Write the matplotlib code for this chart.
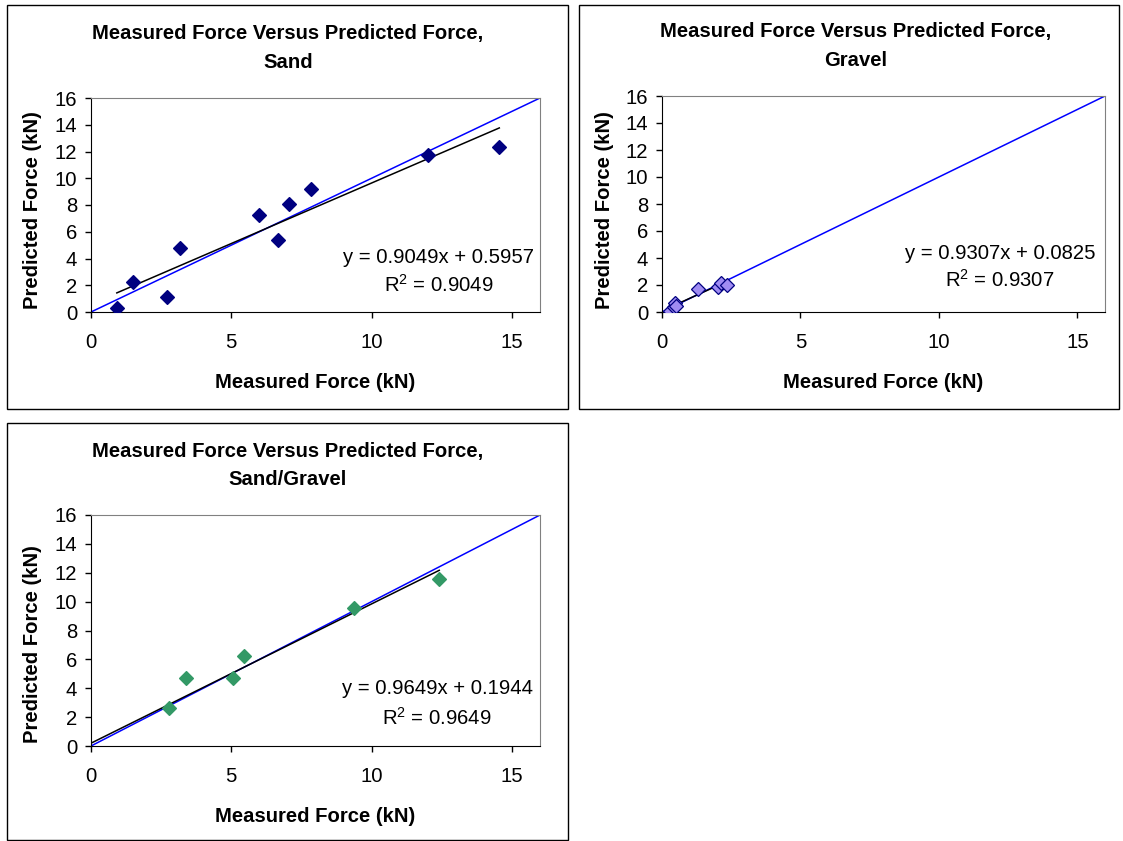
import numpy as np
import matplotlib
matplotlib.use("Agg")
import matplotlib.pyplot as plt
from matplotlib.patches import Rectangle

plt.rcParams["font.family"] = ["Liberation Sans", "DejaVu Sans"]
plt.rcParams["mathtext.fontset"] = "custom"
plt.rcParams["mathtext.rm"] = "Liberation Sans"
plt.rcParams["mathtext.it"] = "Liberation Sans:italic"

# Sand data (measured, predicted)
sand_meas = [0.92, 1.48, 2.72, 3.16, 5.98, 6.66, 7.05, 7.84, 12.02, 14.55]
sand_pred = [0.27, 2.27, 1.15, 4.82, 7.24, 5.42, 8.11, 9.21, 11.76, 12.36]
sand_fit = (0.9049, 0.5957, 0.9049)

# Gravel data
gravel_meas = [0.28, 0.42, 0.48, 0.50, 1.30, 2.03, 2.12, 2.36]
gravel_pred = [0.10, 0.35, 0.70, 0.45, 1.69, 1.88, 2.18, 2.00]
gravel_fit = (0.9307, 0.0825, 0.9307)

# Sand/Gravel data
mix_meas = [2.78, 3.39, 5.06, 5.46, 9.36, 12.41]
mix_pred = [2.64, 4.69, 4.69, 6.22, 9.57, 11.56]
mix_fit = (0.9649, 0.1944, 0.9649)

W, H = 1123, 841
FS = 14.6
fig = plt.figure(figsize=(W / 100, H / 100), dpi=100)


def px(l, t, r, b):
    return [l / W, 1 - b / H, (r - l) / W, (b - t) / H]


# panel frames
for (l, t, r, b) in [(7, 5, 568, 409), (579, 5, 1119, 409), (7, 423, 568, 840)]:
    fig.patches.append(Rectangle((l / W, 1 - b / H), (r - l) / W, (b - t) / H,
                                 transform=fig.transFigure, fill=False,
                                 edgecolor="black", linewidth=1.0))


def panel(box, meas, pred, fit, name, mcolor, medge, title_x, eq_xy, x0=None):
    ax = fig.add_axes(px(*box))
    slope, icpt, r2 = fit
    ax.plot([0, 16], [0, 16], color="#0000FF", linewidth=1.1, zorder=2)
    xs = np.array([min(meas) if x0 is None else x0, max(meas)])
    ax.plot(xs, slope * xs + icpt, color="black", linewidth=1.1, zorder=3)
    ax.plot(meas, pred, "D", markersize=7, color=mcolor, markeredgecolor=medge,
            markeredgewidth=0.9, linestyle="none", zorder=4)
    ax.set_xlim(0, 16)
    ax.set_ylim(0, 16)
    ax.set_xticks([0, 5, 10, 15])
    ax.set_yticks(range(0, 17, 2))
    ax.tick_params(direction="out", length=4, width=1, labelsize=FS, color="black")
    ax.tick_params(axis="x", pad=11)
    ax.tick_params(axis="y", pad=6)
    for s in ["top", "right"]:
        ax.spines[s].set_color("#808080")
    for s in ["left", "bottom"]:
        ax.spines[s].set_color("black")
    ax.text(eq_xy[0], eq_xy[1], "y = %.4fx + %.4f" % (slope, icpt),
            ha="center", va="center", fontsize=FS)
    ax.text(eq_xy[0], eq_xy[1] - 2.0, "R$^{2}$ = %.4f" % r2,
            ha="center", va="center", fontsize=FS)
    l, t, r, b = box
    fig.text(title_x / W, 1 - (t - 64) / H, "Measured Force Versus Predicted Force,",
             ha="center", va="center", fontsize=FS, fontweight="bold")
    fig.text(title_x / W, 1 - (t - 36) / H, name,
             ha="center", va="center", fontsize=FS, fontweight="bold")
    fig.text((l + r) / 2 / W, 1 - (b + 70) / H, "Measured Force (kN)",
             ha="center", va="center", fontsize=FS, fontweight="bold")
    fig.text((l - 58) / W, 1 - (b - 102) / H, "Predicted Force (kN)",
             ha="center", va="center", rotation=90, fontsize=FS, fontweight="bold")
    return ax


panel((91, 98, 540, 312), sand_meas, sand_pred, sand_fit, "Sand",
      "#000080", "#000080", 288, (12.4, 4.05))
panel((662, 96, 1105, 312), gravel_meas, gravel_pred, gravel_fit, "Gravel",
      "#A08CF2", "#000080", 856, (12.2, 4.35))
panel((91, 515, 540, 746), mix_meas, mix_pred, mix_fit, "Sand/Gravel",
      "#339966", "#339966", 288, (12.33, 3.96), x0=0.0)

fig.savefig("out.png", dpi=100)
